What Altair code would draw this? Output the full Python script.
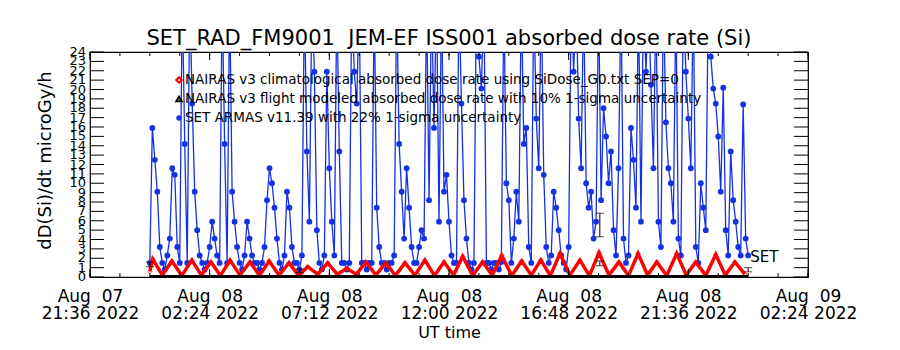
import altair as alt
import pandas as pd

FONT = "DejaVu Sans"
BLUE = "#1432e0"
RED = "#ff0000"

title_text = "SET_RAD_FM9001\u00a0 JEM-EF ISS001 absorbed dose rate (Si)"
legend_labels = [
    "NAIRAS v3 climatological absorbed dose rate using SiDose_G0.txt SEP=0",
    "NAIRAS v3 flight modeled absorbed dose rate with 10% 1-sigma uncertainty",
    "SET ARMAS v11.39 with 22% 1-sigma uncertainty",
]
x_start = "2022-08-07T21:36:00Z"
x_end = "2022-08-09T02:24:00Z"
major_ticks = ["2022-08-07T21:36:00Z", "2022-08-08T02:24:00Z", "2022-08-08T07:12:00Z",
               "2022-08-08T12:00:00Z", "2022-08-08T16:48:00Z", "2022-08-08T21:36:00Z",
               "2022-08-09T02:24:00Z"]
y_ticks = list(range(0, 25))

# SET ARMAS (blue) : one reading every 6 minutes from Aug 08 00:00 UT
blue_start = "2022-08-08T00:00:00Z"
blue_step_min = 6
blue_values = [
    1.5, 15.9, 12.5, 9.1, 3.2, 1.5, 0.8, 2.3, 4.1, 11.6,
    10.9, 3.2, 1.5, 30, 14.2, 1.5, 30, 18.5, 9.1, 5.0,
    2.3, 1.5, 0.8, 1.5, 3.2, 5.9, 4.1, 2.3, 1.5, 30,
    14.2, 1.5, 30, 9.1, 5.9, 3.2, 1.5, 0.8, 2.3, 5.9,
    4.1, 2.3, 1.5, 1.5, 0.8, 1.5, 3.2, 8.2, 11.6, 10.0,
    7.4, 4.1, 1.5, 0.8, 2.3, 9.1, 7.4, 3.2, 1.5, 1.5,
    0.8, 2.3, 30, 13.4, 5.9, 30, 21.9, 5.0, 1.5, 0.8,
    2.3, 21.9, 11.6, 5.9, 2.3, 30, 13.4, 1.5, 1.5, 0.8,
    1.5, 30, 21.9, 18.5, 30, 1.5, 1.5, 0.8, 1.5, 1.5,
    30, 7.4, 3.2, 1.5, 1.5, 0.8, 1.5, 1.5, 2.3, 30,
    14.2, 9.1, 4.1, 11.6, 7.4, 3.2, 1.5, 1.5, 3.2, 5.0,
    4.1, 30, 8.2, 30, 15.9, 30, 5.9, 30, 9.1, 10.9,
    5.9, 2.3, 1.5, 1.5, 30, 18.5, 8.2, 4.1, 1.5, 0.8,
    1.5, 30, 23.5, 20.1, 30, 1.5, 1.5, 0.8, 1.5, 1.5,
    0.8, 1.6, 30, 10.0, 8.2, 1.5, 4.1, 9.1, 5.9, 30,
    14.2, 15.9, 3.2, 1.5, 30, 16.9, 11.6, 30, 10.9, 3.2,
    1.5, 2.3, 9.1, 7.4, 5.0, 2.3, 1.5, 0.8, 3.2, 30,
    21.9, 30, 16.9, 11.6, 30, 10.0, 7.4, 9.1, 4.1, 5.9,
    30, 8.2, 18.0, 15.0, 10.0, 13.4, 5.0, 2.3, 11.6, 30,
    4.1, 1.5, 2.3, 15.9, 12.5, 7.4, 30, 5.9, 30, 21.9,
    30, 20.5, 11.6, 30, 5.9, 3.2, 30, 16.5, 11.6, 10.0,
    5.9, 30, 4.1, 2.3, 30, 21.9, 16.9, 11.6, 30, 3.2,
    1.5, 10.0, 7.4, 5.0, 30, 23.5, 20.1, 18.5, 15.0, 9.1,
    20.2, 5.0, 2.3, 13.4, 8.2, 5.9, 3.2, 2.3, 18.4, 4.1,
    2.3,
]

# NAIRAS climatological (red): turning points, minutes after Aug 08 00:00 UT
red_minutes = [0, 7, 30, 53, 77, 101, 124, 147, 170, 193, 217, 241, 264, 287, 311, 335,
               358, 380, 404, 428, 451, 474, 497, 520, 544, 568, 591, 614, 638, 662, 685,
               708, 731, 753, 777, 801, 824, 847, 871, 895, 918, 941, 964, 987, 1011, 1035,
               1058, 1081, 1105, 1129, 1152, 1175, 1198, 1220, 1244, 1268, 1291, 1314,
               1338, 1362, 1385, 1408, 1432]
red_values = [0.6, 1.9, 0.2, 1.7, 0.15, 1.8, 0.2, 1.6, 0.15, 1.8, 0.2, 1.6, 0.15, 1.7,
              0.2, 1.5, 0.15, 1.1, 0.3, 1.5, 0.3, 0.9, 0.3, 1.6, 0.2, 1.5, 0.15, 1.5,
              0.2, 1.8, 0.15, 1.6, 0.2, 2.2, 0.15, 1.6, 0.2, 2.3, 0.15, 1.7, 0.2, 1.8,
              0.15, 2.5, 0.2, 1.8, 0.15, 2.6, 0.2, 1.6, 0.15, 2.5, 0.2, 1.6, 0.15, 2.5,
              0.2, 1.6, 0.15, 2.4, 0.2, 1.6, 0.3]

# NAIRAS flight modeled (black)
black_minutes = [0, 240, 480, 720, 960, 1200, 1440]
black_values = [0.05, 0.05, 0.06, 0.05, 0.06, 0.05, 0.05]

# error bars
err_minutes = [0, 361, 1083, 1083, 1440]
err_low = [1.1, 0.45, 4.3, 1.2, 0.55]
err_high = [1.6, 0.85, 6.8, 1.7, 1.0]

set_label = "SET"
set_label_value = 2.1


def iso(ts):
    return ts.strftime("%Y-%m-%dT%H:%M:%SZ")


def ms(s):
    return int(pd.Timestamp(s).timestamp() * 1000)


t0 = pd.Timestamp(blue_start)
blue_df = pd.DataFrame({
    "t": [iso(t0 + pd.Timedelta(minutes=blue_step_min * i)) for i in range(len(blue_values))],
    "v": blue_values,
})
red_df = pd.DataFrame({"t": [iso(t0 + pd.Timedelta(minutes=m)) for m in red_minutes], "v": red_values})
black_df = pd.DataFrame({"t": [iso(t0 + pd.Timedelta(minutes=m)) for m in black_minutes], "v": black_values})
err_df = pd.DataFrame({"t": [iso(t0 + pd.Timedelta(minutes=m)) for m in err_minutes],
                       "lo": err_low, "hi": err_high})
set_df = pd.DataFrame({"t": [blue_df["t"].iloc[-1]], "v": [set_label_value], "label": [set_label]})

minor_ticks = pd.date_range(pd.Timestamp(x_start), pd.Timestamp(x_end), freq="72min")
minor_df = pd.DataFrame({"t": [iso(t) for t in minor_ticks]})
major_df = pd.DataFrame({"t": major_ticks})
ytick_df = pd.DataFrame({"v": y_ticks, "lab": [str(v) for v in y_ticks]})

W, H = 718, 225

xscale = alt.Scale(type="utc", domain=[ms(x_start), ms(x_end)])
yscale = alt.Scale(domain=[0, 24], nice=False, zero=False)

label_expr = ("[utcFormat(datum.value, '%b') + '\u00a0\u00a0' + utcFormat(datum.value, '%d'), "
              "utcFormat(datum.value, '%H:%M') + '\u00a0' + utcFormat(datum.value, '%Y')]")

xaxis = alt.Axis(values=[ms(t) for t in major_ticks], labelExpr=label_expr, title="UT time",
                 labelFlush=False, labelFontSize=17, labelLineHeight=17, labelPadding=11,
                 labelBaseline="top", titleFontSize=16, titleX=W / 2, titleY=55,
                 titleBaseline="middle", titleAlign="center")
yaxis = alt.Axis(values=y_ticks, labels=False, title="dD(Si)/dt microGy/h",
                 titleFontSize=18, titleAngle=-90,
                 titleX=-45, titleY=108, titleAlign="center", titleBaseline="middle")

X = alt.X("t:T", scale=xscale, axis=xaxis)
Y = alt.Y("v:Q", scale=yscale, axis=yaxis)

blue_line = alt.Chart(blue_df).mark_line(color=BLUE, strokeWidth=1.3, clip=True).encode(x=X, y=Y)
blue_pts = alt.Chart(blue_df).mark_point(filled=True, shape="circle", size=34, color=BLUE,
                                        opacity=1, clip=True).encode(x="t:T", y="v:Q")
red_line = alt.Chart(red_df).mark_line(color=RED, strokeWidth=3.5, clip=True).encode(x="t:T", y="v:Q")
red_pts = alt.Chart(red_df).mark_point(shape="diamond", size=20, color=RED, strokeWidth=1,
                                      clip=True).encode(x="t:T", y="v:Q")
black_line = alt.Chart(black_df).mark_line(color="black", strokeWidth=3).encode(x="t:T", y="v:Q")
err_rule = alt.Chart(err_df).mark_rule(color="black", strokeWidth=1).encode(
    x="t:T", y="lo:Q", y2="hi:Q")
err_lo = alt.Chart(err_df).mark_tick(orient="horizontal", size=8, thickness=1, color="black").encode(
    x="t:T", y="lo:Q")
err_hi = alt.Chart(err_df).mark_tick(orient="horizontal", size=8, thickness=1, color="black").encode(
    x="t:T", y="hi:Q")
set_text = alt.Chart(set_df).mark_text(align="left", baseline="middle", dx=2, fontSize=15,
                                       font=FONT, color="black").encode(
    x="t:T", y="v:Q", text="label:N")

# y tick labels (every integer, as in the reference, overlapping)
ylabels = alt.Chart(ytick_df).mark_text(align="right", baseline="middle", fontSize=13,
                                        font=FONT, color="black").encode(
    y="v:Q", x=alt.value(-4), text="lab:N")

# inward ticks
yt_left = alt.Chart(ytick_df).mark_rule(color="black").encode(y="v:Q", x=alt.value(0), x2=alt.value(14))
yt_right = alt.Chart(ytick_df).mark_rule(color="black").encode(y="v:Q", x=alt.value(W - 14), x2=alt.value(W))
xt_min_b = alt.Chart(minor_df).mark_rule(color="black").encode(x="t:T", y=alt.value(H - 4), y2=alt.value(H))
xt_min_t = alt.Chart(minor_df).mark_rule(color="black").encode(x="t:T", y=alt.value(0), y2=alt.value(4))
xt_maj_b = alt.Chart(major_df).mark_rule(color="black").encode(x="t:T", y=alt.value(H - 8), y2=alt.value(H))
xt_maj_t = alt.Chart(major_df).mark_rule(color="black").encode(x="t:T", y=alt.value(0), y2=alt.value(8))

# legend
legend_layers = []
legend_shapes = [("diamond", RED, False), ("triangle-up", "black", False), ("circle", BLUE, True)]
for i, (lab, (shp, col, filled)) in enumerate(zip(legend_labels, legend_shapes)):
    d = pd.DataFrame({"label": [lab]})
    yy = 28 + 19 * i
    legend_layers.append(alt.Chart(d).mark_point(shape=shp, color=col, filled=filled, size=30,
                                                 opacity=1).encode(x=alt.value(89), y=alt.value(yy)))
    legend_layers.append(alt.Chart(d).mark_text(align="left", baseline="middle", fontSize=13.5,
                                                font=FONT, color="black").encode(
        x=alt.value(95), y=alt.value(yy), text="label:N"))

chart = alt.layer(
    blue_line, blue_pts, red_line, red_pts, black_line, err_rule, err_lo, err_hi, set_text,
    ylabels, yt_left, yt_right, xt_min_b, xt_min_t, xt_maj_b, xt_maj_t, *legend_layers
).properties(
    width=W, height=H,
    title=alt.TitleParams(title_text, fontSize=21, font=FONT, fontWeight="normal",
                          anchor="middle", color="black", offset=2, dy=5),
    padding={"left": 90, "top": 52, "right": 92, "bottom": 73},
    autosize="none",
    background="white",
).configure_view(
    stroke="black", strokeWidth=1.2
).configure_axis(
    grid=False, domain=False, ticks=False, labelColor="black", titleColor="black",
    labelFont=FONT, titleFont=FONT, titleFontWeight="normal"
)

chart.save("out.html", embed_options={"renderer": "svg", "actions": False})
